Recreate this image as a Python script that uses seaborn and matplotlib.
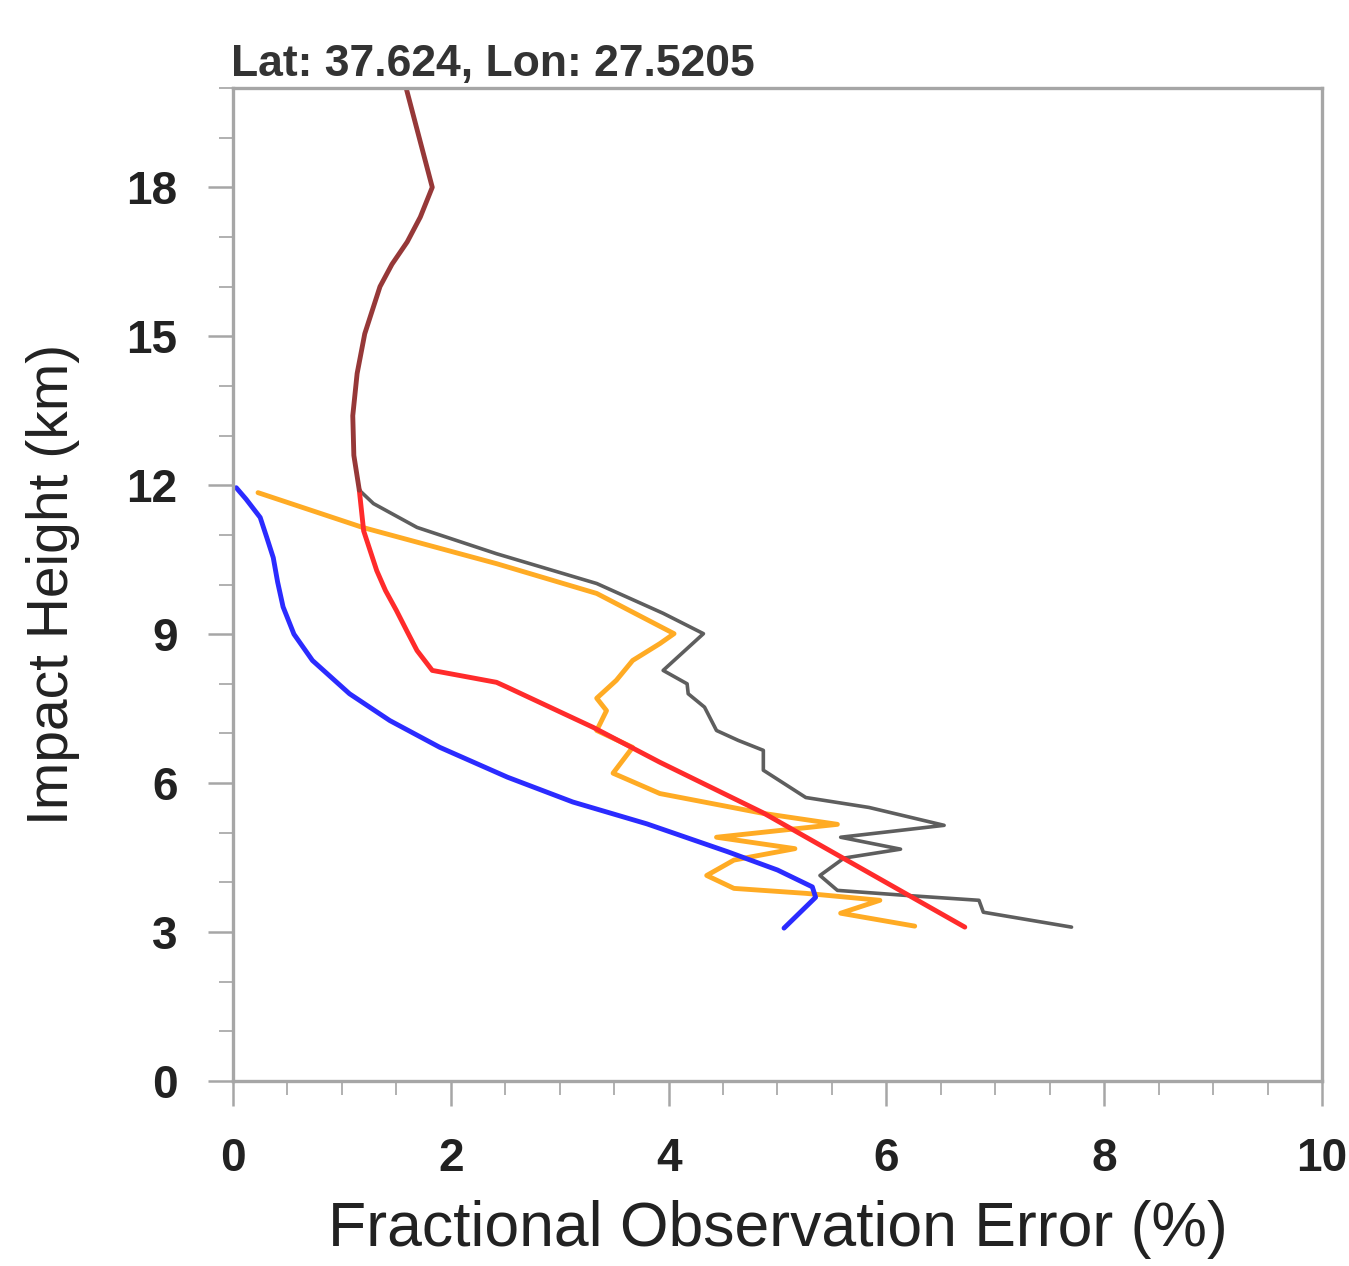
import pandas as pd
import matplotlib
matplotlib.use("Agg")
import matplotlib.pyplot as plt
import seaborn as sns
from matplotlib.ticker import MultipleLocator

# Profiles: x = error (%), y = impact height (km)
upper_x = [1.59, 1.83, 1.72, 1.60, 1.46, 1.35, 1.21, 1.14, 1.10, 1.11, 1.16]
upper_y = [20.0, 18.0, 17.4, 16.9, 16.45, 16.0, 15.05, 14.25, 13.4, 12.6, 11.9]

red_x = [1.16, 1.20, 1.26, 1.32, 1.40, 1.50, 1.60, 1.69, 1.83, 2.42, 2.52, 3.31, 3.92, 4.87, 6.72]
red_y = [11.9, 11.08, 10.68, 10.28, 9.88, 9.48, 9.05, 8.67, 8.27, 8.03, 7.93, 7.12, 6.42, 5.40, 3.10]

gray_x = [1.16, 1.29, 1.69, 2.42, 3.34, 3.95, 4.32, 3.95, 4.17, 4.18, 4.33, 4.44, 4.64,
          4.87, 4.87, 5.26, 5.84, 6.53, 5.58, 6.13, 5.61, 5.39, 5.55, 6.17, 6.85, 6.89, 7.70]
gray_y = [11.9, 11.63, 11.15, 10.62, 10.02, 9.42, 9.01, 8.27, 8.0, 7.8, 7.53, 7.06, 6.86,
          6.66, 6.26, 5.71, 5.51, 5.15, 4.91, 4.67, 4.49, 4.14, 3.84, 3.74, 3.64, 3.40, 3.10]

orange_x = [0.23, 1.19, 2.42, 3.34, 4.05, 3.92, 3.67, 3.52, 3.34, 3.43, 3.34, 3.67, 3.49, 3.92,
            4.87, 5.55, 4.44, 5.16, 4.60, 4.35, 4.60, 5.26, 5.94, 5.58, 6.26]
orange_y = [11.85, 11.15, 10.42, 9.82, 9.01, 8.81, 8.47, 8.07, 7.71, 7.46, 7.06, 6.72, 6.20, 5.79,
            5.39, 5.17, 4.91, 4.68, 4.45, 4.14, 3.88, 3.78, 3.64, 3.38, 3.12]

blue_x = [0.03, 0.12, 0.25, 0.31, 0.37, 0.41, 0.46, 0.56, 0.73, 1.07, 1.44, 1.90, 2.52, 3.12, 3.80,
          4.54, 5.00, 5.32, 5.35, 5.06]
blue_y = [11.95, 11.72, 11.35, 10.95, 10.54, 10.05, 9.55, 9.00, 8.47, 7.80, 7.26, 6.72, 6.12, 5.62, 5.18,
          4.62, 4.25, 3.91, 3.70, 3.08]

x_ticks = [0, 2, 4, 6, 8, 10]
y_ticks = [0, 3, 6, 9, 12, 15, 18]

sns.set_theme(style="white")
plt.rcParams["font.family"] = ["Liberation Sans", "DejaVu Sans"]

fig = plt.figure(figsize=(13.49, 12.66), dpi=100)
ax = fig.add_axes([0.1727, 0.1461, 0.8073, 0.7844])

series = [
    (gray_x, gray_y, "#5e5e5e", 2.6),
    (orange_x, orange_y, "#ffab24", 3.5),
    (blue_x, blue_y, "#2b2bff", 3.5),
    (red_x, red_y, "#ff2b2b", 3.5),
    (upper_x, upper_y, "#963838", 3.5),
]
for xs, ys, col, lw in series:
    df = pd.DataFrame({"err": xs, "h": ys})
    sns.lineplot(data=df, x="err", y="h", sort=False, estimator=None,
                 color=col, linewidth=lw, ax=ax)

ax.set_xlim(0, 10)
ax.set_ylim(0, 20)
ax.set_xticks(x_ticks)
ax.set_yticks(y_ticks)
ax.xaxis.set_minor_locator(MultipleLocator(0.5))
ax.yaxis.set_minor_locator(MultipleLocator(1))

for s in ax.spines.values():
    s.set_color("#a6a6a6")
    s.set_linewidth(2.4)

ax.tick_params(which="major", direction="out", length=18, width=1.8,
               color="#a6a6a6", labelsize=33, pad=22, labelcolor="#222222")
ax.tick_params(which="minor", direction="out", length=10, width=1.4, color="#b0b0b0")
ax.tick_params(bottom=True, left=True, which="both")
for lab in ax.get_xticklabels() + ax.get_yticklabels():
    lab.set_fontweight("bold")

ax.set_xlabel("Fractional Observation Error (%)", fontsize=45, labelpad=14, color="#222222")
ax.set_ylabel("Impact Height (km)", fontsize=41, labelpad=33, color="#222222")
ax.text(-0.002, 1.012, "Lat: 37.624, Lon: 27.5205", transform=ax.transAxes,
        ha="left", va="baseline", fontsize=32, fontweight="bold", color="#333333")

fig.savefig("out.png", dpi=100)
